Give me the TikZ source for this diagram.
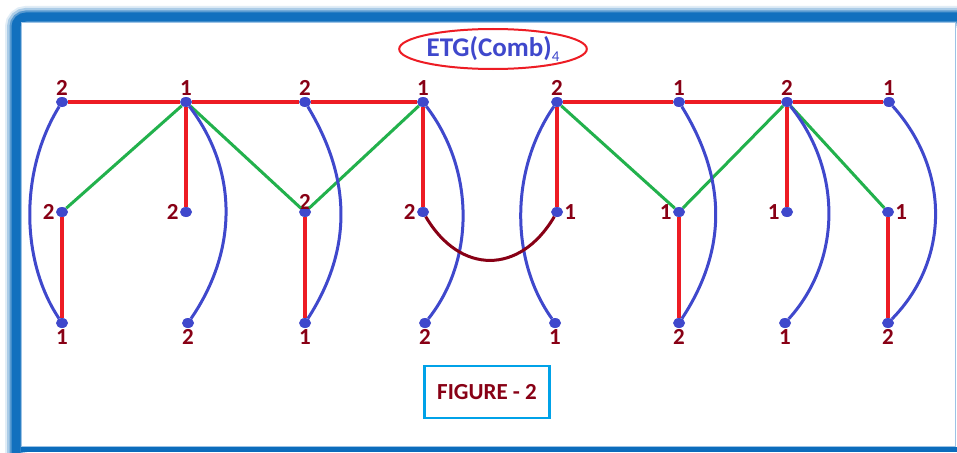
\documentclass[tikz,border=0pt]{standalone}
\usepackage{fontspec}
\setmainfont{Carlito}
\usetikzlibrary{shapes.geometric}

\definecolor{pblue}{HTML}{3F48CC}
\definecolor{pred}{HTML}{ED1C24}
\definecolor{pgreen}{HTML}{22B14C}
\definecolor{pdarkred}{HTML}{880015}
\definecolor{pcyan}{HTML}{00A2E8}
\definecolor{frameblue}{HTML}{0B6CBC}
\definecolor{framelight}{HTML}{9CC3E6}

\tikzset{
  dot/.style={ellipse, fill=pblue, minimum width=12pt, minimum height=10pt, inner sep=0pt},
  lbl/.style={text=pdarkred, font=\fontsize{23}{23}\selectfont\bfseries, inner sep=1pt},
  redge/.style={pred, line width=4pt},
  gedge/.style={pgreen, line width=3pt},
  bedge/.style={pblue, line width=3pt},
  dredge/.style={pdarkred, line width=3pt},
}

\begin{document}
\begin{tikzpicture}[x=1pt, y=-1pt]
        \useasboundingbox (0,0) rectangle (957,452);

        % Frame
        \fill[white] (0,0) rectangle (957,452);
        \foreach \w/\o in {22/0.12, 18/0.25, 13/0.5, 9/0.9}
            \draw[frameblue, opacity=\o, line width=\w pt, rounded corners=10pt] (16,17) rectangle (1000,500);
        \fill[white, draw=framelight, line width=1pt] (21,23) rectangle (955,446);
        \fill[frameblue] (21,446.5) rectangle (957,452);

        % Title
        \node[ellipse, draw=pred, line width=2pt, minimum width=172pt, minimum height=40pt, inner sep=0pt,
              text=pblue, font=\fontsize{27}{27}\selectfont\bfseries] (title) at (493,49)
              {ETG(Comb)\raisebox{-0.35ex}{\fontsize{15}{15}\selectfont\mdseries 4}};

        % Top row
        \node[dot, label={[lbl]above:2}] (t1) at (62,102) {};
        \node[dot, label={[lbl]above:1}] (t2) at (186,102) {};
        \node[dot, label={[lbl]above:2}] (t3) at (305,102) {};
        \node[dot, label={[lbl]above:1}] (t4) at (423,102) {};
        \node[dot, label={[lbl]above:2}] (t5) at (557,102) {};
        \node[dot, label={[lbl]above:1}] (t6) at (679,102) {};
        \node[dot, label={[lbl]above:2}] (t7) at (787,102) {};
        \node[dot, label={[lbl]above:1}] (t8) at (889,102) {};

        % Middle row
        \node[dot, label={[lbl]left:2}] (m1) at (62,212) {};
        \node[dot, label={[lbl]left:2}] (m2) at (186,212) {};
        \node[dot, label={[lbl, label distance=-4pt]above:2}] (m3) at (305,212) {};
        \node[dot, label={[lbl]left:2}] (m4) at (423,212) {};
        \node[dot, label={[lbl]right:1}] (m5) at (557,212) {};
        \node[dot, label={[lbl]left:1}] (m6) at (679,212) {};
        \node[dot, label={[lbl]left:1}] (m7) at (787,212) {};
        \node[dot, label={[lbl]right:1}] (m8) at (888,212) {};

        % Bottom row
        \node[dot, label={[lbl]below:1}] (b1) at (62,323) {};
        \node[dot, label={[lbl]below:2}] (b2) at (188,323) {};
        \node[dot, label={[lbl]below:1}] (b3) at (305,323) {};
        \node[dot, label={[lbl]below:2}] (b4) at (425,323) {};
        \node[dot, label={[lbl]below:1}] (b5) at (555,323) {};
        \node[dot, label={[lbl]below:2}] (b6) at (679,323) {};
        \node[dot, label={[lbl]below:1}] (b7) at (785,323) {};
        \node[dot, label={[lbl]below:2}] (b8) at (888,323) {};

        % Red edges
        \draw[redge] (t1) -- (t2) -- (t3) -- (t4);
        \draw[redge] (t5) -- (t6) -- (t7) -- (t8);
        \draw[redge] (t2) -- (m2);
        \draw[redge] (t4) -- (m4);
        \draw[redge] (t5) -- (m5);
        \draw[redge] (t7) -- (m7);
        \draw[redge] (m1) -- (b1);
        \draw[redge] (m3) -- (b3);
        \draw[redge] (m6) -- (b6);
        \draw[redge] (m8) -- (b8);

        % Green edges
        \draw[gedge] (m1) -- (t2) -- (m3) -- (t4);
        \draw[gedge] (t5) -- (m6) -- (t7) -- (m8);

        % Blue curves
        \draw[bedge] (t1) .. controls (20,170) and (20,260) .. (b1);
        \draw[bedge] (t2) .. controls (238,170) and (238,250) .. (b2);
        \draw[bedge] (t3) .. controls (352,180) and (352,250) .. (b3);
        \draw[bedge] (t4) .. controls (475,170) and (475,260) .. (b4);
        \draw[bedge] (t5) .. controls (510,170) and (510,260) .. (b5);
        \draw[bedge] (t6) .. controls (727,180) and (727,250) .. (b6);
        \draw[bedge] (t7) .. controls (842,170) and (842,260) .. (b7);
        \draw[bedge] (t8) .. controls (950,170) and (950,260) .. (b8);

        % Joining curve
        \draw[dredge] (m4) .. controls (460,275) and (520,275) .. (m5);

        % Caption
        \node[draw=pcyan, line width=2.5pt, minimum width=125pt, minimum height=52pt,
              text=pdarkred, font=\fontsize{23}{23}\selectfont\bfseries] (fig) at (487,392) {FIGURE - 2};
    \end{tikzpicture}
\end{document}
